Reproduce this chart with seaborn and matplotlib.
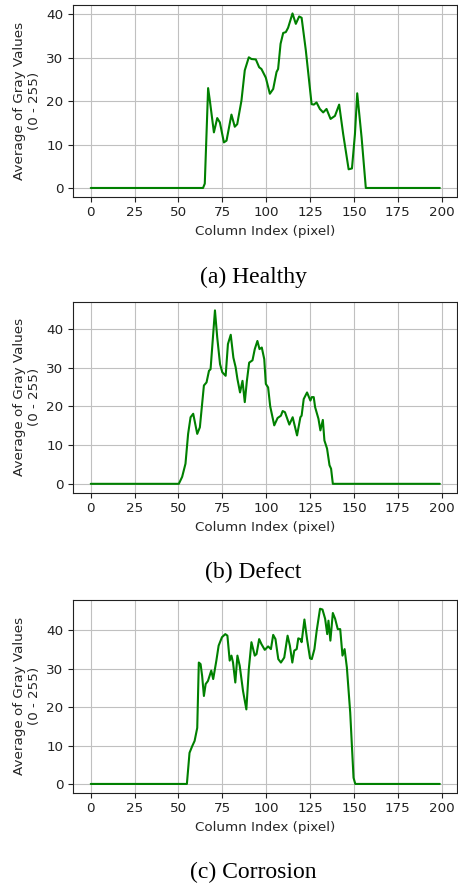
import matplotlib
matplotlib.use("Agg")
import matplotlib.pyplot as plt
import seaborn as sns
import pandas as pd

# ---- data ----
healthy_x = [0, 64, 65, 66.9, 67.9, 70.2, 72.1, 73.6, 75.9, 77.4, 80.2, 82.1, 83.5, 85.9, 87.8,
             90.1, 91.6, 94.1, 96.0, 97.3, 99.8, 102.1, 104, 105.9, 106.8, 108.2, 109.7, 111.2,
             112.5, 115, 116.9, 118.8, 120.2, 122.6, 125.9, 127.2, 128.7, 130.6, 132.5, 134.4,
             136.7, 139.2, 141.6, 143.9, 147, 148.9, 150.6, 151.9, 154.4, 156.8, 199]
healthy_y = [0, 0, 1, 23.0, 20.1, 12.8, 16.1, 15.1, 10.5, 10.9, 16.9, 14.1, 14.7, 20.1, 27.1,
             30.1, 29.7, 29.6, 27.8, 27.4, 25.4, 21.7, 22.8, 26.7, 27.4, 33.2, 35.7, 35.9,
             36.9, 40.2, 37.8, 39.5, 39.2, 31.7, 19.3, 19.2, 19.7, 18.2, 17.4, 18.2,
             15.9, 16.6, 19.2, 12.4, 4.3, 4.5, 12.4, 21.8, 11.6, 0, 0]

defect_x = [0, 50.2, 52.1, 54, 55.5, 56.9, 58.4, 60.7, 62.2, 64.5, 66, 67.4, 68.3, 69.5, 70.8,
            72.1, 73.7, 75, 76.9, 78.2, 79.8, 81.3, 82.6, 83.6, 85.1, 86.5, 87.8, 89, 90.3,
            92.2, 93.5, 95, 96.2, 97.5, 98.9, 99.8, 101.1, 102.3, 104.6, 106.5, 108.4, 109.4,
            110.7, 113.2, 115.1, 117.6, 119.5, 120.2, 121.4, 123.3, 125.2, 126, 127.1, 127.9,
            129.8, 130.9, 132.3, 133.2, 134.7, 136.1, 137, 138, 199]
defect_y = [0, 0, 1.8, 5.2, 12.9, 17.2, 18.1, 12.9, 14.6, 25.4, 26.2, 29.2, 29.6, 36.9, 44.8,
            37.8, 30.9, 28.8, 27.9, 36.1, 38.5, 32.6, 30.1, 27.1, 23.6, 26.6, 21.1, 26.6, 31.3,
            31.9, 34.8, 36.9, 34.8, 35.2, 32.2, 25.8, 24.9, 20, 15.1, 17, 17.6, 18.8,
            18.5, 15.3, 17.2, 12.5, 17.2, 17.6, 21.9, 23.6, 21.5, 22.4, 22.4, 19.8,
            16.8, 13.8, 16.5, 11.2, 9.1, 4.8, 3.9, 0, 0]

corrosion_x = [0, 54.8, 56.3, 57.8, 59.2, 60.7, 61.6, 62.6, 63.5, 64.5, 65.5, 66.8, 68.7, 69.8,
               71.6, 72.9, 74.8, 76.7, 77.9, 79.2, 80.2, 81.1, 82.4, 83.6, 84.9, 86.8, 88.7,
               90.1, 91.6, 93.5, 94.5, 96, 97.3, 99.2, 101.1, 102.7, 104, 105.3, 106.9, 108.4,
               110.3, 112.2, 113.5, 114.9, 116, 117.4, 118.3, 119.5, 120.2, 121.8, 123.3, 125,
               126, 127.5, 128.8, 130.7, 132.1, 133.6, 134.8, 135.5, 136.6, 138, 139.3, 140.8,
               142.2, 143.5, 144.7, 146, 147.9, 149.8, 150.8, 199]
corrosion_y = [0, 0, 8.1, 9.8, 11.2, 14.6, 31.6, 31.2, 28.1, 22.9, 26, 26.8, 29.5, 27.3,
               32.1, 36, 38.2, 39, 38.6, 32.1, 33.4, 31.6, 26.4, 33.4, 30.8, 24.2, 19.4,
               29.9, 36.9, 33.4, 33.8, 37.7, 36.4, 34.9, 35.8, 35.1, 38.8, 37.7, 32.5, 31.6,
               32.9, 38.6, 36, 31.6, 34.7, 35.1, 37.9, 37.7, 36.9, 42.8, 37.7, 32.7,
               32.5, 35.1, 39.9, 45.6, 45.4, 43, 39, 42.5, 37.3, 44.5, 43, 40.3,
               40.3, 33.4, 35.1, 30.3, 18.6, 1.6, 0, 0]

captions = ["(a) Healthy", "(b) Defect", "(c) Corrosion"]
x_ticks = [0, 25, 50, 75, 100, 125, 150, 175, 200]
y_ticks = [0, 10, 20, 30, 40]
x_label = "Column Index (pixel)"
y_label = "Average of Gray Values\n(0 - 255)"

# ---- style ----
sns.set_style("ticks", {
    "axes.grid": True,
    "grid.color": "#c0c0c0",
    "axes.edgecolor": "#222222",
    "xtick.color": "#222222",
    "ytick.color": "#222222",
    "axes.labelcolor": "#262626",
    "text.color": "#262626",
})
plt.rcParams["font.family"] = ["DejaVu Sans"]
plt.rcParams["font.size"] = 9.7
plt.rcParams["xtick.direction"] = "out"
plt.rcParams["ytick.direction"] = "out"
plt.rcParams["xtick.major.size"] = 3.5
plt.rcParams["ytick.major.size"] = 3.5
plt.rcParams["grid.linewidth"] = 0.8
plt.rcParams["axes.linewidth"] = 0.8

W, H = 458, 886
fig = plt.figure(figsize=(W / 100, H / 100), dpi=100)

left = 73.3 / W
width = (457.3 - 73.3) / W
panels = [(4.7, 196.7), (301.7, 492.5), (600.0, 792.7)]
cap_base = [283, 578.5, 878]

series = [(healthy_x, healthy_y), (defect_x, defect_y), (corrosion_x, corrosion_y)]

for (top, bot), (xs, ys), cap, cy in zip(panels, series, captions, cap_base):
    ax = fig.add_axes([left, 1 - bot / H, width, (bot - top) / H])
    df = pd.DataFrame({"x": xs, "y": ys})
    sns.lineplot(data=df, x="x", y="y", ax=ax, color="green", linewidth=1.5)
    ax.set_xticks(x_ticks)
    ax.set_yticks(y_ticks)
    ax.tick_params(labelsize=9.7, width=0.8)
    ax.set_xlabel(x_label, fontsize=9.7)
    ax.set_ylabel(y_label, fontsize=9.7)
    ax.grid(True, color="#c0c0c0", linewidth=0.8)
    for s in ax.spines.values():
        s.set_visible(True)
        s.set_linewidth(0.8)
    fig.text(253 / W, 1 - cy / H, cap, ha="center", va="baseline",
             family=["Liberation Serif"], fontsize=17, color="black")

fig.savefig("out.png", dpi=100)
